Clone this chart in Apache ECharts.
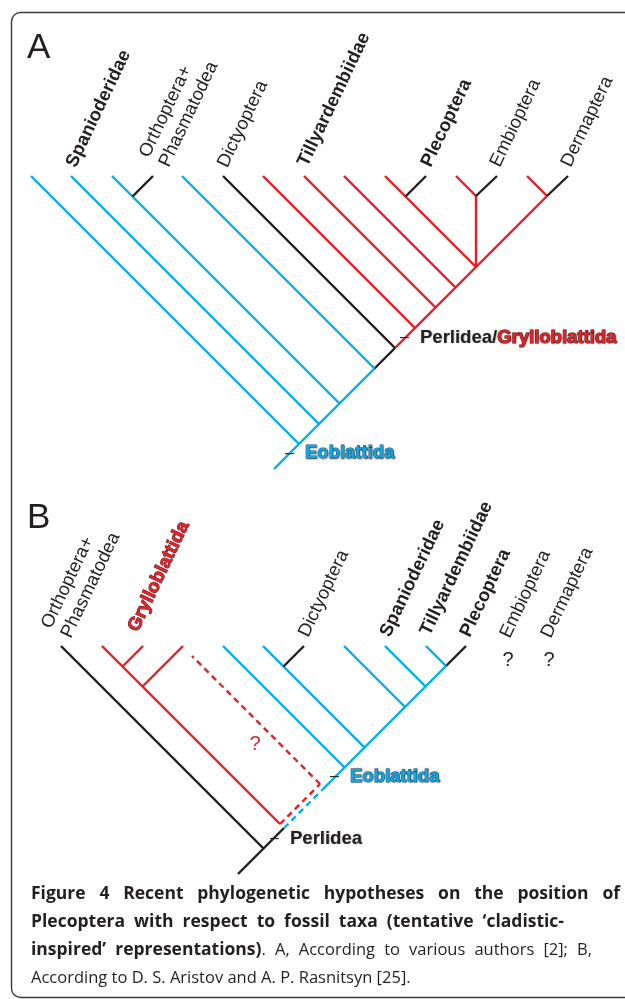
<!DOCTYPE html>
<html><head><meta charset="utf-8">
<script src="https://cdn.jsdelivr.net/npm/echarts@6/dist/echarts.min.js"></script>
<style>html,body{margin:0;padding:0;background:#fff}#c{width:625px;height:999px}</style>
</head><body><div id="c"></div>
<script>
// clade codes: 0 = other (black), 1 = Eoblattida (blue), 2 = Grylloblattida (red)
// Branch segments: [x1, depth1, x2, depth2, clade, dashed]; depth measured downward from the tip line
const branchesA = [
  [274,293, 374.5,192.5, 1,0],
  [374.5,192.5, 395,172, 0,0],
  [395,172, 547,20, 2,0],
  [31,0, 299,268, 1,0],
  [71,0, 319,248, 1,0],
  [112,0, 339.5,227.5, 1,0],
  [153,0, 132.5,20.5, 0,0],
  [182,0, 374.5,192.5, 1,0],
  [223,0, 395,172, 0,0],
  [263,0, 415,152, 2,0],
  [304,0, 435.5,131.5, 2,0],
  [344,0, 455.5,111.5, 2,0],
  [385,0, 476,91, 2,0],
  [426,0, 405.5,20.5, 0,0],
  [476,91, 476,20, 2,0],
  [456,0, 476,20, 2,0],
  [497,0, 476,20, 0,0],
  [527,0, 547,20, 2,0],
  [568,0, 547,20, 0,0]
];
const branchesB = [
  [238,228, 284,182, 0,0],
  [284,182, 322,144, 1,1],
  [322,144, 446,20, 1,0],
  [446,20, 466,0, 0,0],
  [61,0, 263.5,202.5, 0,0],
  [102,0, 280,178, 2,0],
  [143,0, 122.5,20.5, 2,0],
  [183,0, 142.5,40.5, 2,0],
  [280,178, 320,138, 2,1],
  [320,138, 192,10, 2,1],
  [223,0, 344.5,121.5, 1,0],
  [263,0, 364.5,101.5, 1,0],
  [304,0, 283.5,20.5, 0,0],
  [344,0, 405,61, 1,0],
  [385,0, 425.5,40.5, 1,0],
  [426,0, 446,20, 1,0]
];
// Taxon names and the start of each label's (last) baseline [x, depth]
const taxaA = ['Spanioderidae','Orthoptera+\nPhasmatodea','Dictyoptera','Tillyardembiidae','Plecoptera','Embioptera','Dermaptera'];
const taxaAnchorA = [[77,-7],[170,-7.5],[228.5,-7],[308.5,-8],[432,-7.5],[501,-7.5],[572,-7.5]];
const taxaBoldA = [1,0,0,1,1,0,0];
const taxaCladeA = [0,0,0,0,0,0,0];
const taxaB = ['Orthoptera+\nPhasmatodea','Grylloblattida','Dictyoptera','Spanioderidae','Tillyardembiidae','Plecoptera','Embioptera','Dermaptera'];
const taxaAnchorB = [[72,-6.5],[139,-13],[309.5,-7.5],[391,-7.5],[431,-9],[471,-7.5],[511,-6.5],[552,-6.5]];
const taxaBoldB = [0,1,0,1,1,1,0,0];
const taxaCladeB = [0,2,0,0,0,0,0,0];
// Node labels (dash start, centre line) [x, depth]
const nodesA = [['Eoblattida'],['Perlidea/','Grylloblattida']];
const nodeAnchorA = [[285,277.3],[400,161.5]];
const nodeCladeA = [[1],[0,2]];
const nodesB = [['Eoblattida'],['Perlidea']];
const nodeAnchorB = [[330,130.5],[270,192.5]];
const nodeCladeB = [[1],[0]];
// Question marks (panel B) [x, depth, clade]
const queryB = [[255,98,2],[508,14,0],[549,14,0]];
// Caption
const captionLines = [
  [['b','Figure 4 Recent phylogenetic hypotheses on the position of']],
  [['b','Plecoptera with respect to fossil taxa (tentative ‘cladistic-']],
  [['b','inspired’ representations)'],['r','. A, According to various authors [2]; B,']],
  [['r','According to D. S. Aristov and A. P. Rasnitsyn [25].']]
];
const captionRight = [620, 564, 592, null];

const COL = ['#231f20','#00aeef','#ed1c24'];
const TXT = ['#231f20','#12a6e2','#e3232a'];
const OUT = [null,'#1e4f6e','#5a1414'];
const LF = 'Liberation Sans';
const TH = 64.5*Math.PI/180;
const FS = 18.5;

function branchSeries(data, gi){
  return {type:'custom', coordinateSystem:'cartesian2d', xAxisIndex:gi, yAxisIndex:gi,
    silent:true, animation:false, data:data, encode:{x:[0,2], y:[1,3]},
    renderItem:function(params, api){
      const p1 = api.coord([api.value(0), api.value(1)]);
      const p2 = api.coord([api.value(2), api.value(3)]);
      const c = api.value(4), d = api.value(5);
      return {type:'line', shape:{x1:p1[0],y1:p1[1],x2:p2[0],y2:p2[1]},
        style:{stroke:COL[c], lineWidth:2.4, lineDash: d ? [6,4.5] : null, lineCap:'butt'}};
    }};
}
function taxaSeries(names, anchors, bold, clade, gi){
  return {type:'custom', coordinateSystem:'cartesian2d', xAxisIndex:gi, yAxisIndex:gi,
    silent:true, animation:false, data:anchors.map((a,i)=>[a[0],a[1],i]), encode:{x:0,y:1},
    renderItem:function(params, api){
      const i = params.dataIndex;
      const p = api.coord([api.value(0), api.value(1)]);
      const multi = names[i].indexOf('\n') >= 0;
      const lh = multi ? 22 : FS;
      const off = lh/2 - 0.3465*FS;
      const c = clade[i];
      const st = {text:names[i], fill:TXT[c], fontSize:FS, fontFamily:LF,
        fontWeight: bold[i] ? 'bold' : 'normal', align:'left', verticalAlign:'bottom', lineHeight:lh};
      if (OUT[c]) { st.stroke = OUT[c]; st.lineWidth = 1; }
      return {type:'text', x:p[0] + off*Math.sin(TH), y:p[1] + off*Math.cos(TH), rotation:TH, style:st};
    }};
}
function nodeSeries(parts, anchors, clades, gi){
  return {type:'custom', coordinateSystem:'cartesian2d', xAxisIndex:gi, yAxisIndex:gi,
    silent:true, animation:false, data:anchors.map((a,i)=>[a[0],a[1],i]), encode:{x:0,y:1},
    renderItem:function(params, api){
      const i = params.dataIndex;
      const p = api.coord([api.value(0), api.value(1)]);
      let txt = '{d|–}';
      const rich = {d:{fontSize:16, fontFamily:LF, fill:'#231f20', width:20, align:'left'}};
      parts[i].forEach((s,k)=>{
        const c = clades[i][k];
        const key = 'p'+k;
        rich[key] = {fontSize:FS, fontWeight:'bold', fontFamily:LF, fill:TXT[c],
          textShadowColor:'rgba(0,0,0,0.35)', textShadowBlur:1.5, textShadowOffsetX:0.7, textShadowOffsetY:0.7};
        if (OUT[c]) { rich[key].stroke = OUT[c]; rich[key].lineWidth = 1; }
        txt += '{'+key+'|'+s+'}';
      });
      return {type:'text', x:p[0], y:p[1], style:{text:txt, rich:rich, align:'left', verticalAlign:'middle'}};
    }};
}
function querySeries(data, gi){
  return {type:'custom', coordinateSystem:'cartesian2d', xAxisIndex:gi, yAxisIndex:gi,
    silent:true, animation:false, data:data, encode:{x:0,y:1},
    renderItem:function(params, api){
      const p = api.coord([api.value(0), api.value(1)]);
      return {type:'text', x:p[0], y:p[1], style:{text:'?', fill:TXT[api.value(2)], fontSize:20,
        fontFamily:LF, align:'center', verticalAlign:'middle'}};
    }};
}

// caption: rich text, lines spread to the measured right edges
const CAP_LEFT = 31;
const capFont = {b:{size:17.5, weight:'bold', fam:'Open Sans'}, r:{size:16.5, weight:'normal', fam:'Open Sans'}};
const ctx = document.createElement('canvas').getContext('2d');
function measure(style, s){ const f = capFont[style]; ctx.font = f.weight+' '+f.size+'px "'+f.fam+'"'; return ctx.measureText(s).width; }
const capRich = {
  b:{fontSize:capFont.b.size, fontWeight:'bold', fontFamily:capFont.b.fam, color:'#231f20', lineHeight:28},
  r:{fontSize:capFont.r.size, fontWeight:'normal', fontFamily:capFont.r.fam, color:'#231f20', lineHeight:28}
};
const capText = captionLines.map((line, li)=>{
  const toks = [];
  line.forEach(seg=>{
    seg[1].split(' ').forEach((w,k)=>{ if (k>0) toks.push({sp:true, st:seg[0]}); if (w) toks.push({w:w, st:seg[0]}); });
  });
  let sum = 0, n = 0, nat = 0;
  toks.forEach(t=>{ if (t.sp) { n++; nat += measure(t.st,' '); } else sum += measure(t.st, t.w); });
  let spw = n ? nat/n : 0;
  if (captionRight[li] != null && n) spw = Math.max(2.5, (captionRight[li] - CAP_LEFT - sum)/n);
  const key = 's'+li;
  capRich[key] = {fontSize:16.5, fontFamily:'Open Sans', width:spw, lineHeight:28};
  return toks.map(t=> t.sp ? '{'+key+'| }' : '{'+t.st+'|'+t.w+'}').join('');
}).join('\n');

const chart = echarts.init(document.getElementById('c'), null, {renderer:'canvas'});
chart.setOption({
  backgroundColor:'#ffffff',
  animation:false,
  grid:[
    {left:0, width:625, top:0, height:476, outerBoundsMode:'none'},
    {left:0, width:625, top:470, height:416, outerBoundsMode:'none'}
  ],
  xAxis:[
    {gridIndex:0, type:'value', min:0, max:625, show:false},
    {gridIndex:1, type:'value', min:0, max:625, show:false}
  ],
  yAxis:[
    {gridIndex:0, type:'value', min:-176, max:300, inverse:true, show:false},
    {gridIndex:1, type:'value', min:-176, max:240, inverse:true, show:false}
  ],
  title:[
    {text:'A', left:27, top:30.4, padding:0, textStyle:{fontSize:35, fontWeight:'normal', fontFamily:LF, color:'#231f20', lineHeight:35}},
    {text:'B', left:27, top:500.4, padding:0, textStyle:{fontSize:35, fontWeight:'normal', fontFamily:LF, color:'#231f20', lineHeight:35}},
    {left:CAP_LEFT, top:880.4, padding:0, text:capText, textStyle:{rich:capRich}}
  ],
  graphic:[
    {type:'rect', silent:true, z:-1, shape:{x:11.5, y:12.5, width:700, height:985, r:9},
     style:{fill:'none', stroke:'#3a3a3a', lineWidth:1.4}}
  ],
  series:[
    branchSeries(branchesA, 0),
    branchSeries(branchesB, 1),
    taxaSeries(taxaA, taxaAnchorA, taxaBoldA, taxaCladeA, 0),
    taxaSeries(taxaB, taxaAnchorB, taxaBoldB, taxaCladeB, 1),
    nodeSeries(nodesA, nodeAnchorA, nodeCladeA, 0),
    nodeSeries(nodesB, nodeAnchorB, nodeCladeB, 1),
    querySeries(queryB, 1)
  ]
});
</script>
</body></html>
